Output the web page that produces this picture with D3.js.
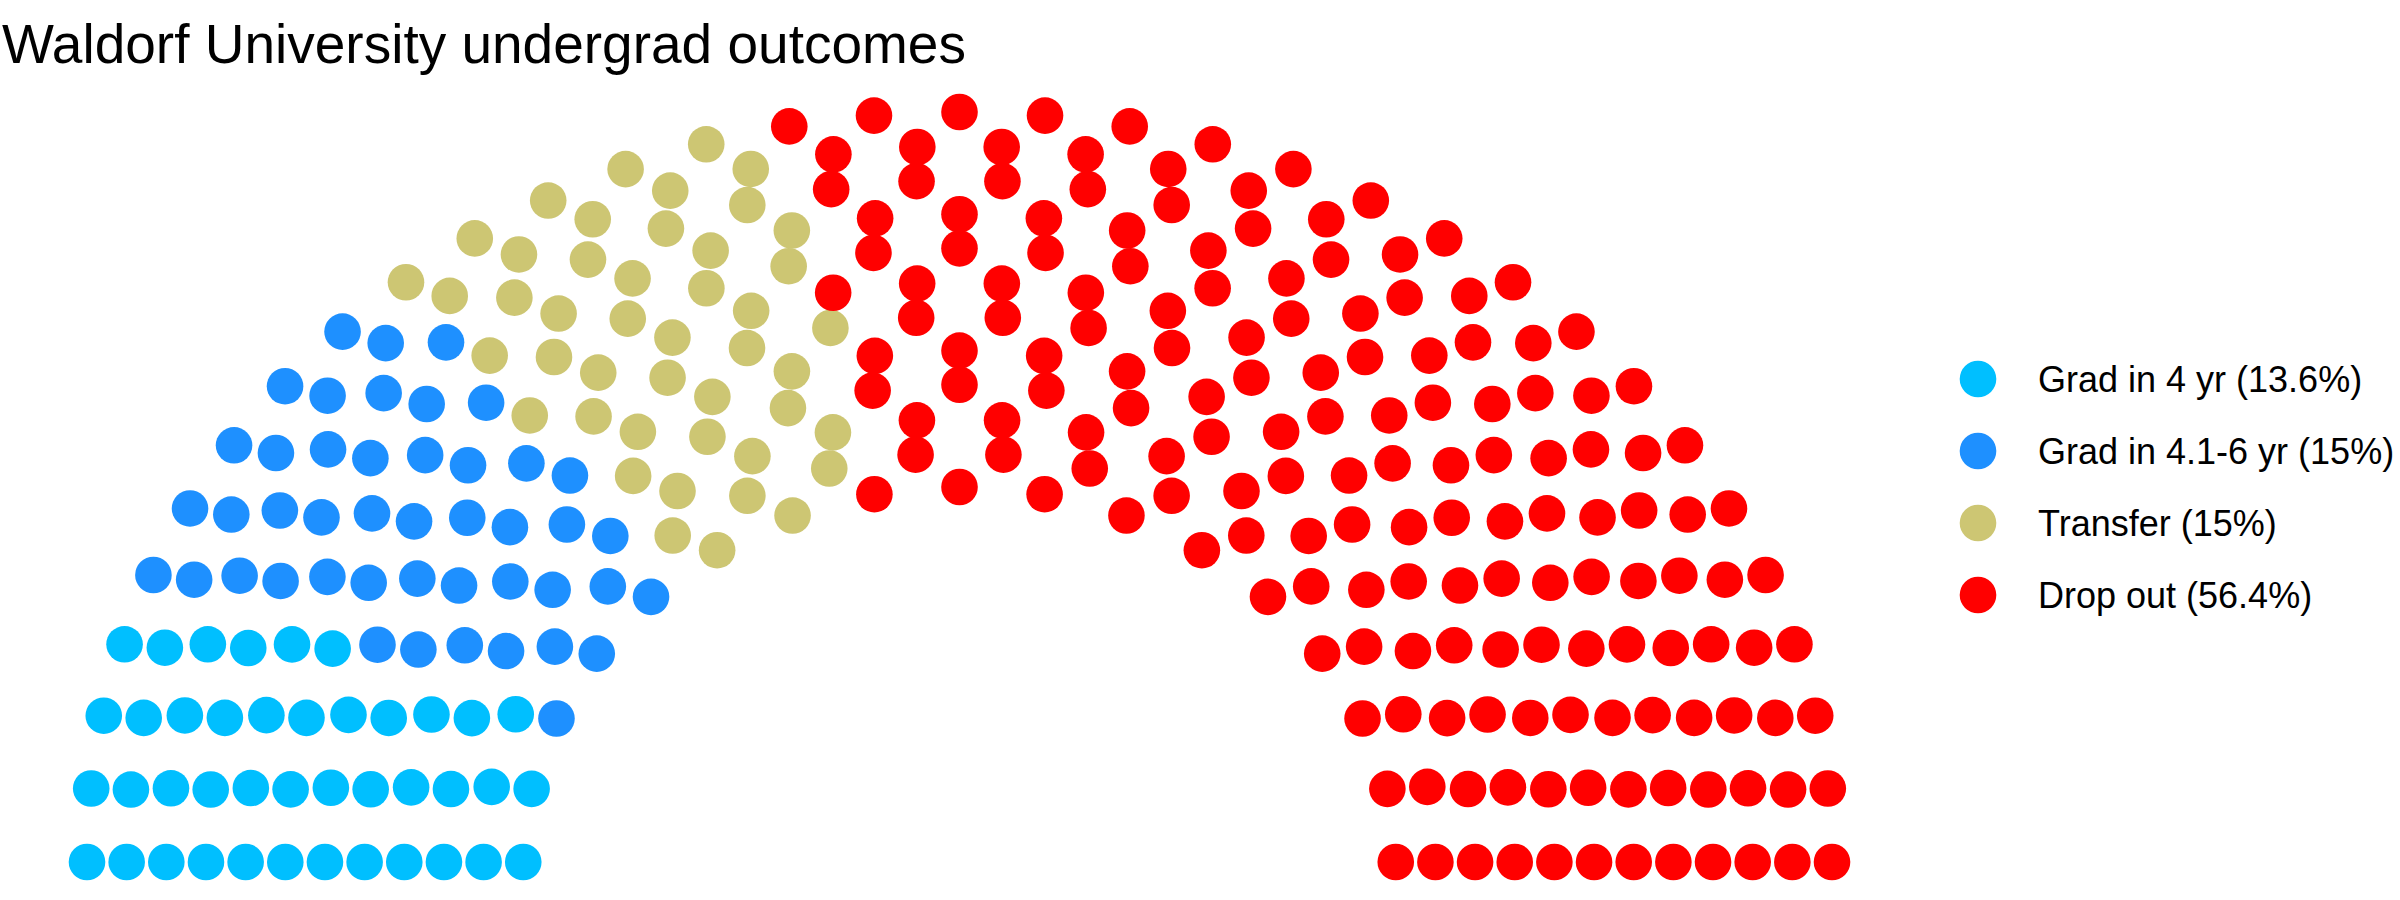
<!DOCTYPE html>
<html>
<head>
<meta charset="utf-8">
<script src="https://cdn.jsdelivr.net/npm/d3@7"></script>
<style>
  body { margin: 0; background: #fff; }
  text { font-family: "Liberation Sans", Arial, Helvetica, sans-serif; }
</style>
</head>
<body>
<div id="chart"></div>
<script>
// outcome groups
var parties = ["Grad in 4 yr", "Grad in 4.1-6 yr", "Transfer", "Drop out"];
var shares = [13.6, 15, 15, 56.4];
// seats out of 300 dots
var seats = [41, 45, 45, 169];
var partyColors = ["#00BFFF", "#1E90FF", "#CDC673", "#FF0000"];
var parlRows = 12;

document.addEventListener("DOMContentLoaded", function () {
    drawParliament();
});

// semicircle layout: rows of seats on arcs between radius 1 and 2
function seatLayout(total, rows) {
    var radii = d3.range(rows).map(i => 1 + i / (rows - 1));
    var left = total;
    var pts = [];
    radii.forEach(function (r, i) {
        var rest = d3.sum(radii.slice(i));
        var n = Math.round(left * r / rest);
        var step = Math.PI / (n - 1);
        for (var k = 0; k < n; k++) {
            var theta = (k === n - 1) ? Math.PI : k * step;
            pts.push({x: r * Math.cos(theta), y: r * Math.sin(theta), row: i + 1, theta: theta});
        }
        left -= n;
    });
    pts.sort((a, b) => (b.theta - a.theta) || (b.row - a.row));
    return pts;
}

function drawParliament() {
    const width = 2400;
    const height = 900;

    var svg = d3.select("#chart")
        .append("svg")
            .attr("width", width)
            .attr("height", height);

    var pts = seatLayout(d3.sum(seats), parlRows);

    // give each seat its party in order
    var idx = 0;
    seats.forEach(function (s, p) {
        for (var j = 0; j < s; j++) { pts[idx].party = p; idx++; }
    });

    var xScale = d3.scaleLinear()
        .domain([-2, 2])
        .range([87, 1832]);

    var yScale = d3.scaleLinear()
        .domain([0, 2])
        .range([862, 112]);

    svg.append("g")
        .selectAll("circle")
        .data(pts)
        .join("circle")
            .attr("cx", d => xScale(d.x))
            .attr("cy", d => yScale(d.y))
            .attr("r", 18.3)
            .attr("fill", d => partyColors[d.party]);

    //title
    svg.append("text")
        .attr("x", 2)
        .attr("y", 63)
        .style("font-size", "55px")
        .style("fill", "black")
        .text("Waldorf University undergrad outcomes");

    //legend
    var legend = svg.append("g")
        .selectAll("g")
        .data(parties)
        .join("g")
            .attr("transform", (d, i) => `translate(1978, ${379 + i * 72})`);

    legend.append("circle")
        .attr("r", 18.3)
        .attr("fill", (d, i) => partyColors[i]);

    legend.append("text")
        .attr("x", 60)
        .attr("y", 13)
        .style("font-size", "36px")
        .style("fill", "black")
        .text((d, i) => `${d} (${shares[i]}%)`);
}
</script>
</body>
</html>
